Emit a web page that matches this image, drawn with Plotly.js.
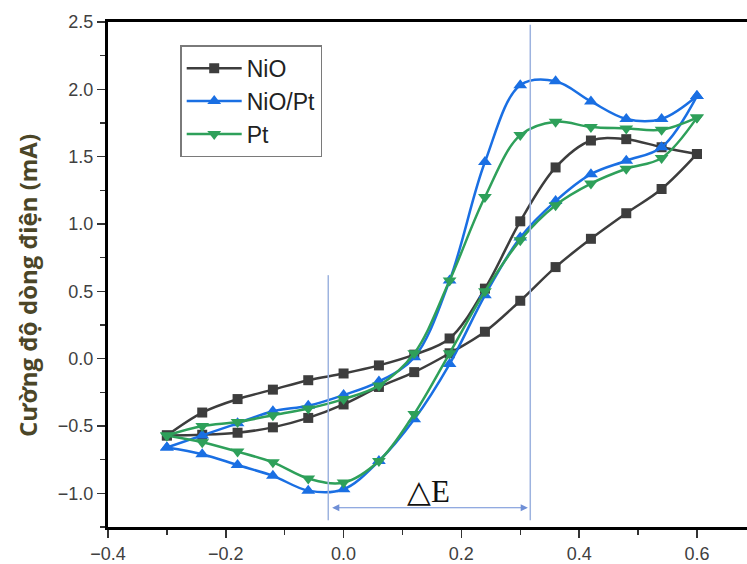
<!DOCTYPE html>
<html>
<head>
<meta charset="utf-8">
<script src="https://cdn.plot.ly/plotly-3.0.1.min.js"></script>
<style>html,body{margin:0;padding:0;background:#fff;}</style>
</head>
<body>
<div id="chart" style="width:747px;height:564px;"></div>
<script>
// Potential (V) for forward sweep and reverse sweep
const xForward = [-0.30, -0.24, -0.18, -0.12, -0.06, 0.00, 0.06, 0.12, 0.18, 0.24, 0.30, 0.36, 0.42, 0.48, 0.54, 0.60];
const xReverse = [0.60, 0.54, 0.48, 0.42, 0.36, 0.30, 0.24, 0.18, 0.12, 0.06, 0.00, -0.06, -0.12, -0.18, -0.24, -0.30];

// NiO (mA)
const nioForward = [-0.57, -0.40, -0.30, -0.23, -0.16, -0.11, -0.05, 0.03, 0.15, 0.52, 1.02, 1.42, 1.62, 1.63, 1.57, 1.52];
const nioReverse = [1.52, 1.26, 1.08, 0.89, 0.68, 0.43, 0.20, 0.04, -0.10, -0.21, -0.34, -0.44, -0.51, -0.55, -0.565, -0.57];

// NiO/Pt (mA)
const nioptForward = [-0.66, -0.57, -0.48, -0.39, -0.35, -0.27, -0.17, 0.01, 0.58, 1.46, 2.03, 2.06, 1.91, 1.78, 1.78, 1.95];
const nioptReverse = [1.95, 1.57, 1.47, 1.37, 1.17, 0.90, 0.47, -0.04, -0.45, -0.76, -0.97, -0.98, -0.87, -0.79, -0.71, -0.66];

// Pt (mA)
const ptForward = [-0.57, -0.50, -0.47, -0.42, -0.37, -0.30, -0.20, 0.04, 0.58, 1.20, 1.66, 1.76, 1.72, 1.71, 1.70, 1.79];
const ptReverse = [1.79, 1.49, 1.41, 1.30, 1.14, 0.88, 0.50, 0.04, -0.41, -0.76, -0.92, -0.89, -0.77, -0.69, -0.62, -0.57];

const seriesNames = ['NiO', 'NiO/Pt', 'Pt'];
const seriesColors = ['#3d3d3d', '#1a6fe3', '#2ea05a'];
const seriesSymbols = ['square', 'triangle-up', 'triangle-down'];
const seriesSizes = [10, 12, 12];
const forwardData = [nioForward, nioptForward, ptForward];
const reverseData = [nioReverse, nioptReverse, ptReverse];

const yTitle = 'Cường độ dòng điện (mA)';
const deltaLabel = '△E';

// Delta E markers (V)
const deltaLeft = -0.026;
const deltaRight = 0.317;

const traces = [];
for (let i = 0; i < seriesNames.length; i++) {
  const common = {
    type: 'scatter',
    mode: 'lines+markers',
    name: seriesNames[i],
    legendgroup: seriesNames[i],
    line: {color: seriesColors[i], width: 2.5, shape: 'spline', smoothing: 1},
    marker: {color: seriesColors[i], symbol: seriesSymbols[i], size: seriesSizes[i]}
  };
  traces.push(Object.assign({}, common, {x: xForward, y: forwardData[i], showlegend: true}));
  traces.push(Object.assign({}, common, {x: xReverse, y: reverseData[i], showlegend: false}));
}

const axisFont = {family: 'Liberation Sans, Arial, sans-serif', size: 18, color: '#404040'};

const layout = {
  width: 747,
  height: 564,
  margin: {l: 108, r: 0, t: 22, b: 37},
  paper_bgcolor: '#ffffff',
  plot_bgcolor: '#ffffff',
  showlegend: true,
  legend: {
    x: 0.113, y: 0.954, xanchor: 'left', yanchor: 'top',
    bgcolor: '#ffffff', bordercolor: '#7a7a7a', borderwidth: 1.5,
    font: {family: 'Liberation Sans, Arial, sans-serif', size: 23, color: '#222222'},
    tracegroupgap: 0,
    itemwidth: 55
  },
  xaxis: {
    range: [-0.4, 0.685],
    dtick: 0.2, tick0: 0,
    tickformat: '.1f',
    showgrid: false, zeroline: false,
    showline: true, linecolor: '#000000', linewidth: 3,
    mirror: true,
    ticks: 'outside', ticklen: 8, tickwidth: 1.5, tickcolor: '#333333',
    minor: {dtick: 0.1, ticks: 'outside', ticklen: 5, tickwidth: 1.5, tickcolor: '#333333'},
    tickfont: axisFont
  },
  yaxis: {
    range: [-1.25, 2.5],
    dtick: 0.5, tick0: 0,
    tickformat: '.1f',
    showgrid: false, zeroline: false,
    showline: true, linecolor: '#000000', linewidth: 3,
    mirror: false,
    ticks: 'outside', ticklen: 8, tickwidth: 1.5, tickcolor: '#333333',
    minor: {dtick: 0.25, ticks: 'outside', ticklen: 5, tickwidth: 1.5, tickcolor: '#333333'},
    tickfont: axisFont
  },
  shapes: [
    {type: 'line', xref: 'x', yref: 'y', x0: deltaRight, x1: deltaRight, y0: -1.20, y1: 2.48,
     line: {color: '#9db3df', width: 1.5}},
    {type: 'line', xref: 'x', yref: 'y', x0: deltaLeft, x1: deltaLeft, y0: -1.20, y1: 0.62,
     line: {color: '#9db3df', width: 1.5}}
  ],
  annotations: [
    {x: deltaRight - 0.004, y: -1.107, ax: deltaLeft + 0.004, ay: -1.107,
     xref: 'x', yref: 'y', axref: 'x', ayref: 'y',
     showarrow: true, arrowhead: 2, startarrowhead: 2, arrowside: 'end+start',
     arrowsize: 1.2, arrowwidth: 1.2, arrowcolor: '#6f8fd6', text: ''},
    {x: 0.145, y: -0.99, xref: 'x', yref: 'y', text: deltaLabel, showarrow: false,
     font: {family: 'Liberation Serif, Times New Roman, serif', size: 31, color: '#111111'}},
    {x: 0, y: 0.477, xref: 'paper', yref: 'paper', xanchor: 'center', yanchor: 'middle',
     xshift: -81, textangle: -90, text: yTitle, showarrow: false,
     font: {family: 'Open Sans, sans-serif', size: 24, color: '#4b4628', weight: 'bold'}}
  ]
};

Plotly.newPlot('chart', traces, layout, {displayModeBar: false, staticPlot: true});
</script>
</body>
</html>
